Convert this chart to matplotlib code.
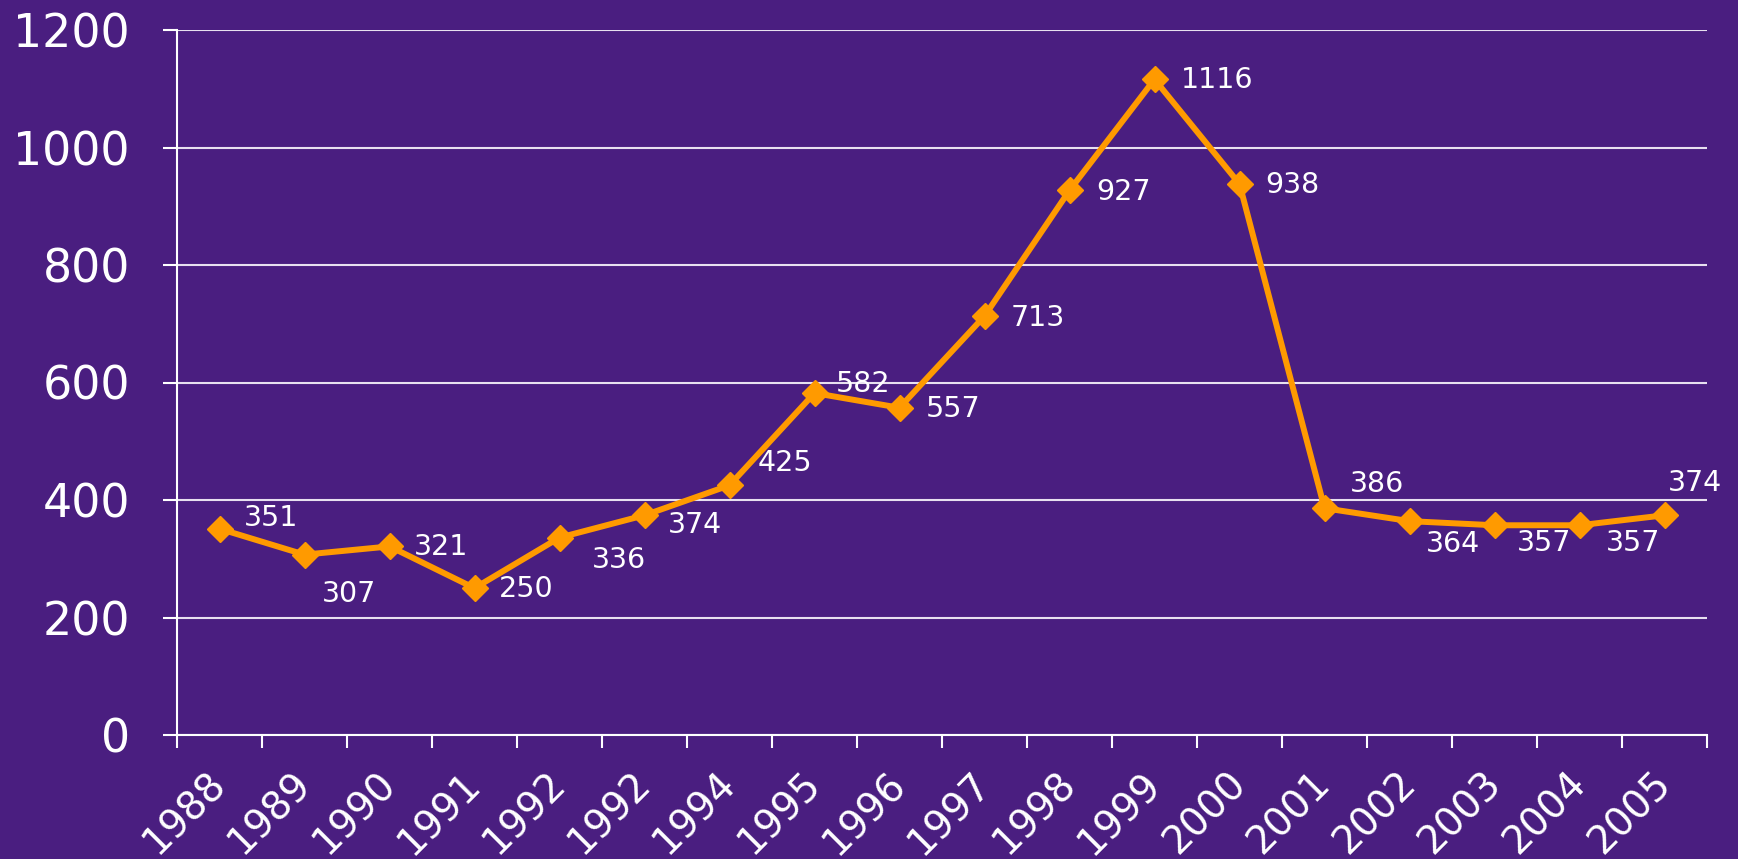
import matplotlib
matplotlib.use("Agg")
import matplotlib.pyplot as plt
import numpy as np

years = ["1988", "1989", "1990", "1991", "1992", "1992", "1994", "1995", "1996",
         "1997", "1998", "1999", "2000", "2001", "2002", "2003", "2004", "2005"]
values = [351, 307, 321, 250, 336, 374, 425, 582, 557, 713, 927, 1116, 938,
          386, 364, 357, 357, 374]
y_ticks = [0, 200, 400, 600, 800, 1000, 1200]

# label offsets in pixels (dx, dy up)
label_offsets = [(52, 11), (44, -39), (52, -1), (52, -1), (59, -22), (50, -10),
                 (55, 22), (49, 9), (54, -1), (53, -2), (54, -2), (63, -1),
                 (53, -1), (53, 24), (43, -23), (50, -18), (54, -18), (30, 32)]

BG = "#4A1E80"
ORANGE = "#FF9A00"
DPI = 100

fig = plt.figure(figsize=(17.38, 8.59), dpi=DPI, facecolor=BG)
ax = fig.add_axes([177 / 1738, 1 - 735 / 859, 1530 / 1738, 705 / 859])
ax.set_facecolor(BG)

x = np.arange(len(values))
ax.plot(x, values, color=ORANGE, lw=4.3, marker="D", markersize=13.5,
        markeredgecolor=ORANGE, markerfacecolor=ORANGE, zorder=3, clip_on=False)

for xi, v, (dx, dy) in zip(x, values, label_offsets):
    ax.annotate(str(v), (xi, v), xytext=(dx * 72 / DPI, dy * 72 / DPI),
                textcoords="offset points", ha="center", va="center",
                color="white", fontsize=20.5)

ax.set_xlim(-0.5, len(values) - 0.5)
ax.set_ylim(0, 1200)
ax.set_yticks(y_ticks)
ax.set_yticklabels([str(t) for t in y_ticks])
ax.set_xticks(x)
ax.set_xticks(np.arange(-0.5, len(values), 1.0), minor=True)
ax.set_xticklabels(years, rotation=45, ha="right", va="center",
                   rotation_mode="anchor")

ax.tick_params(axis="x", which="major", length=0, pad=31, labelsize=28,
               labelcolor="white")
ax.tick_params(axis="x", which="minor", length=9, width=1.5, color="white",
               direction="out")
ax.tick_params(axis="y", which="major", length=10, width=1.5, color="white",
               pad=24, labelsize=33, labelcolor="white")

ax.grid(axis="y", color="#E8E0F0", lw=1.5, zorder=1)
for s in ["top", "right"]:
    ax.spines[s].set_visible(False)
for s in ["left", "bottom"]:
    ax.spines[s].set_color("white")
    ax.spines[s].set_linewidth(1.5)

fig.savefig("out.png", dpi=DPI, facecolor=BG)
